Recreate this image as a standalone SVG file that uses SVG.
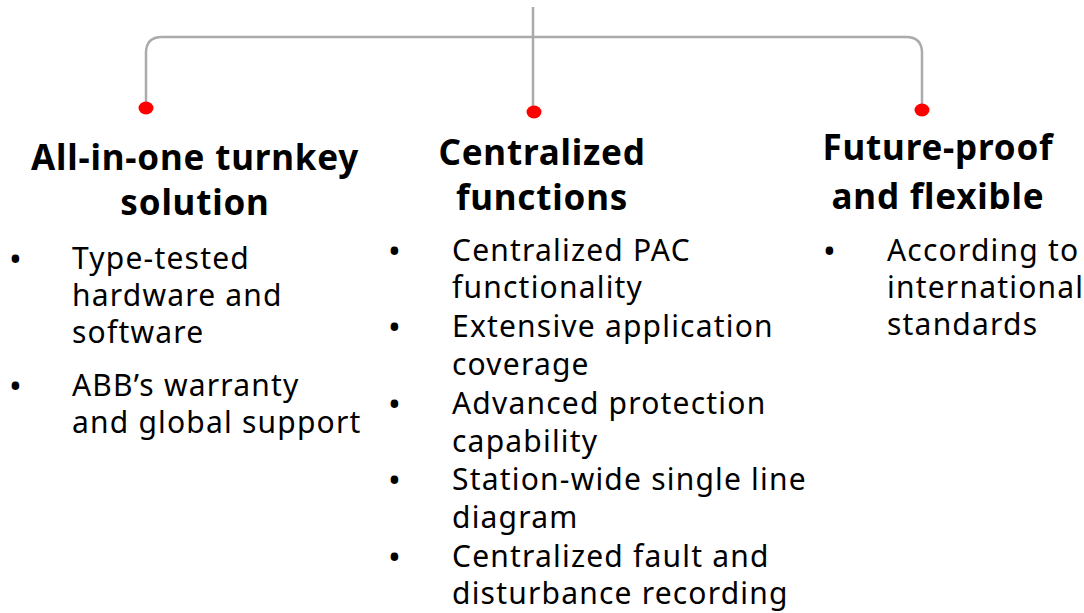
<svg xmlns="http://www.w3.org/2000/svg" width="1084" height="613" viewBox="0 0 1084 613">
<style>
.conn{fill:none;stroke:#ababab;stroke-width:2.5}
.dot{fill:#ff0000}
.title{font-family:"Noto Sans","Open Sans",sans-serif;font-weight:bold;font-size:35px;letter-spacing:0.8px;fill:#000;text-anchor:middle}
.body{font-family:"Noto Sans","Open Sans",sans-serif;font-size:30px;letter-spacing:1.2px;fill:#000}
.bul{font-family:"Noto Sans","Open Sans",sans-serif;font-size:34px;fill:#000}
</style>
<rect width="1084" height="613" fill="#fff"/>
<g id="connectors">
<path class="conn" d="M146,108 V53 Q146,37 162,37 H906 Q922,37 922,53 V110"/>
<path class="conn" d="M533,7 V112"/>
<ellipse class="dot" cx="146" cy="108" rx="7.5" ry="6.5"/>
<ellipse class="dot" cx="534" cy="112" rx="7.5" ry="6.5"/>
<ellipse class="dot" cx="922" cy="110" rx="7.5" ry="6.5"/>
</g>
<g id="node-turnkey">
<text class="title" x="195" y="170">All-in-one turnkey</text>
<text class="title" x="195" y="215">solution</text>
<text class="bul" x="9" y="271">•</text>
<text class="body" x="72" y="269">Type-tested</text>
<text class="body" x="72" y="306">hardware and</text>
<text class="body" x="72" y="343">software</text>
<text class="bul" x="9" y="398">•</text>
<text class="body" x="72" y="396">ABB’s warranty</text>
<text class="body" x="72" y="433">and global support</text>
</g>
<g id="node-centralized">
<text class="title" x="542" y="165">Centralized</text>
<text class="title" x="542" y="210">functions</text>
<text class="bul" x="388" y="263">•</text>
<text class="body" x="452" y="261">Centralized PAC</text>
<text class="body" x="452" y="298">functionality</text>
<text class="bul" x="388" y="339">•</text>
<text class="body" x="452" y="337">Extensive application</text>
<text class="body" x="452" y="375">coverage</text>
<text class="bul" x="388" y="416">•</text>
<text class="body" x="452" y="414">Advanced protection</text>
<text class="body" x="452" y="452">capability</text>
<text class="bul" x="388" y="492">•</text>
<text class="body" x="452" y="490">Station-wide single line</text>
<text class="body" x="452" y="528">diagram</text>
<text class="bul" x="388" y="569">•</text>
<text class="body" x="452" y="567">Centralized fault and</text>
<text class="body" x="452" y="604">disturbance recording</text>
</g>
<g id="node-future">
<text class="title" x="938" y="160">Future-proof</text>
<text class="title" x="938" y="209">and flexible</text>
<text class="bul" x="823" y="263">•</text>
<text class="body" x="887" y="261">According to</text>
<text class="body" x="887" y="298">international</text>
<text class="body" x="887" y="335">standards</text>
</g>
</svg>
